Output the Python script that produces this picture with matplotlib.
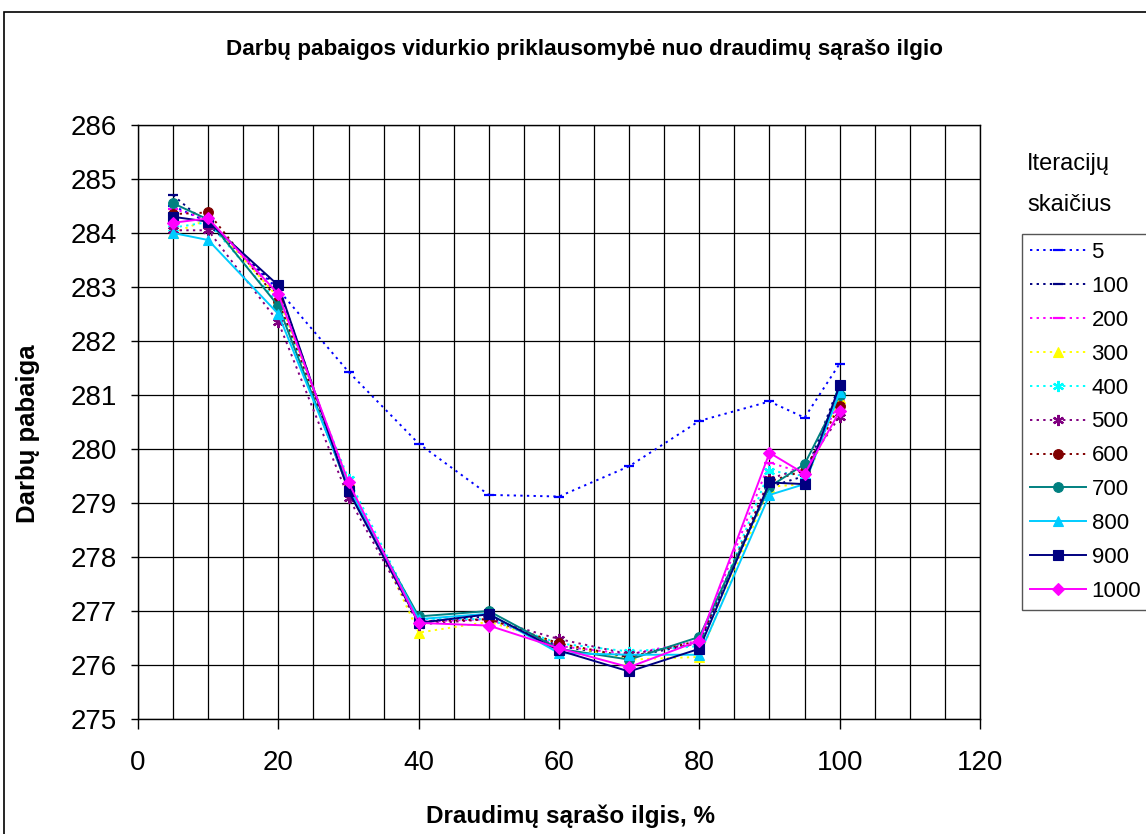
import matplotlib
matplotlib.use("Agg")
import matplotlib.pyplot as plt
from matplotlib.patches import Rectangle

plt.rcParams['font.family'] = ['Liberation Sans', 'DejaVu Sans']

# --- data ---
x_vals = [5, 10, 20, 30, 40, 50, 60, 70, 80, 90, 95, 100]

s5 = [284.5, 284.2, 282.95, 281.43, 280.1, 279.15, 279.12, 279.68, 280.52, 280.88, 280.58, 281.58]
s100 = [284.7, 284.15, 283.0, 279.25, 276.8, 276.9, 276.35, 276.15, 276.4, 279.3, 279.5, 281.2]
s200 = [284.45, 284.25, 282.85, 279.35, 276.8, 276.85, 276.35, 276.2, 276.45, 279.75, 279.55, 280.9]
s300 = [284.0, 284.25, 282.8, 279.4, 276.6, 276.8, 276.4, 276.1, 276.15, 279.3, 279.35, 280.95]
s400 = [284.1, 284.2, 282.7, 279.45, 276.85, 276.85, 276.4, 276.25, 276.35, 279.6, 279.5, 281.0]
s500 = [284.05, 284.05, 282.35, 279.1, 276.75, 276.85, 276.48, 276.2, 276.4, 279.45, 279.65, 280.6]
s600 = [284.35, 284.38, 282.75, 279.3, 276.8, 276.85, 276.4, 276.15, 276.45, 279.4, 279.6, 280.8]
s700 = [284.55, 284.25, 282.65, 279.25, 276.9, 277.0, 276.3, 276.1, 276.52, 279.3, 279.72, 281.0]
s800 = [284.0, 283.87, 282.5, 279.3, 276.85, 276.95, 276.22, 276.19, 276.19, 279.15, 279.35, 281.05]
s900 = [284.3, 284.21, 283.03, 279.22, 276.78, 276.94, 276.27, 275.88, 276.3, 279.38, 279.35, 281.18]
s1000 = [284.19, 284.27, 282.87, 279.38, 276.78, 276.73, 276.31, 275.96, 276.45, 279.93, 279.54, 280.7]

labels = ['5', '100', '200', '300', '400', '500', '600', '700', '800', '900', '1000']
series = [s5, s100, s200, s300, s400, s500, s600, s700, s800, s900, s1000]

# style per series: colour, linestyle, marker, markersize
asterisk = (6, 2, 0)
dots = (0, (1.2, 2.2))
styles = [
    ('#0000FF', dots, '_', 7),
    ('#000080', dots, '_', 7),
    ('#FF00FF', dots, '_', 7),
    ('#FFFF00', dots, '^', 7.5),
    ('#00FFFF', dots, asterisk, 8),
    ('#800080', dots, asterisk, 8),
    ('#800000', dots, 'o', 7),
    ('#008080', '-', 'o', 7),
    ('#00CCFF', '-', '^', 7.5),
    ('#000080', '-', 's', 7),
    ('#FF00FF', '-', 'D', 6.5),
]

fig = plt.figure(figsize=(11.46, 8.34), dpi=100)
ax = fig.add_axes([138 / 1146, 1 - 719 / 834, 842 / 1146, 594 / 834])

for vals, lab, (col, ls, mk, ms) in zip(series, labels, styles):
    ax.plot(x_vals, vals, color=col, linestyle=ls, linewidth=1.4,
            marker=mk, markersize=ms, markeredgewidth=1.6 if mk in ('_', asterisk) else 0.8,
            markeredgecolor=col, markerfacecolor=col, label=lab, zorder=3)

# axes & grid
ax.set_xlim(0, 120)
ax.set_ylim(275, 286)
ax.set_xticks(range(0, 121, 20))
ax.set_xticks(range(0, 121, 5), minor=True)
ax.set_yticks(range(275, 287))
ax.grid(True, which='both', axis='x', color='black', linewidth=0.9)
ax.grid(True, which='major', axis='y', color='black', linewidth=0.9)
ax.set_axisbelow(True)
ax.tick_params(axis='x', which='major', direction='out', length=7, width=1, labelsize=20, pad=15)
ax.tick_params(axis='x', which='minor', length=0)
ax.tick_params(axis='y', direction='out', length=5, width=1, labelsize=20, pad=10)
for sp in ax.spines.values():
    sp.set_color('black')
    sp.set_linewidth(1)

ax.set_xlabel('Draudimų sąrašo ilgis, %', fontsize=17.5, fontweight='bold')
ax.set_ylabel('Darbų pabaiga', fontsize=18.5, fontweight='bold')
ax.xaxis.set_label_coords((570 - 138) / 842, (719 - 805) / 594)
ax.yaxis.set_label_coords((40 - 138) / 842, (719 - 434) / 594)

fig.text(584 / 1146, 1 - 50 / 834,
         'Darbų pabaigos vidurkio priklausomybė nuo draudimų sąrašo ilgio',
         ha='center', va='center', fontsize=16.2, fontweight='bold')

# legend with title outside the box, like Excel
fig.text(1027 / 1146, 1 - 164 / 834, 'Iteracijų', ha='left', va='center', fontsize=17)
fig.text(1027 / 1146, 1 - 205 / 834, 'skaičius', ha='left', va='center', fontsize=17)
leg = fig.legend(loc='upper left', bbox_to_anchor=(1022 / 1146, 1 - 234 / 834),
                 fontsize=16, frameon=True, fancybox=False, framealpha=1,
                 edgecolor='#555555', handlelength=2.5, handletextpad=0.27,
                 labelspacing=0.58, borderpad=0.36, borderaxespad=0)
leg.get_frame().set_linewidth(1)

# outer chart border
fig.patches.append(Rectangle((4 / 1146, -0.01), 1.0, 1 - 12 / 834 + 0.01,
                             transform=fig.transFigure, fill=False,
                             edgecolor='black', linewidth=1.2))

fig.savefig('out.png', dpi=100)
